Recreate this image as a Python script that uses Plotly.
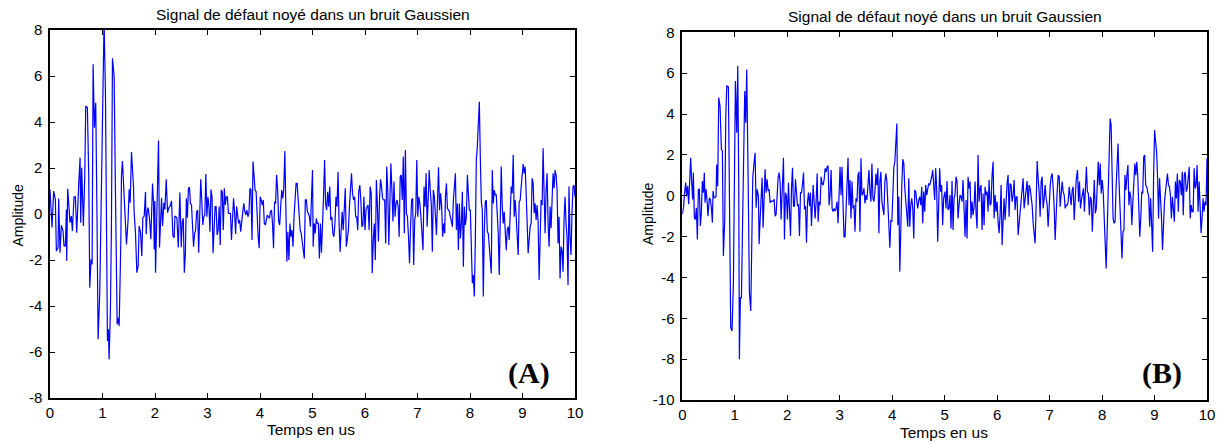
import numpy as np
import plotly.graph_objects as go

# ---------------- data ----------------
TITLE = "Signal de défaut noyé dans un bruit Gaussien"
XLABEL = "Temps en us"
YLABEL = "Amplitude"
X_TICKS = [0, 1, 2, 3, 4, 5, 6, 7, 8, 9, 10]
Y_TICKS_A = [-8, -6, -4, -2, 0, 2, 4, 6, 8]
Y_TICKS_B = [-10, -8, -6, -4, -2, 0, 2, 4, 6, 8]

# Signal (A): burst segment with read times, then regularly read segments
A_T1 = [0.000, 0.038, 0.070, 0.102, 0.121, 0.153, 0.165, 0.191, 0.216, 0.248,
        0.267, 0.293, 0.312, 0.318, 0.337, 0.363, 0.382, 0.407, 0.426, 0.458,
        0.483, 0.509, 0.522, 0.547, 0.573, 0.585, 0.604, 0.636, 0.662, 0.681,
        0.712, 0.738, 0.757, 0.782, 0.802, 0.821, 0.846, 0.871, 0.897, 0.916,
        0.948, 0.967, 1.011, 1.030, 1.056, 1.081, 1.094, 1.113, 1.126, 1.151,
        1.170, 1.190, 1.221, 1.247, 1.279, 1.304, 1.317, 1.349, 1.361, 1.380,
        1.425, 1.457, 1.488, 1.508, 1.527, 1.552, 1.590, 1.603, 1.628, 1.654,
        1.679, 1.698, 1.724, 1.749, 1.768, 1.794, 1.819, 1.832, 1.851, 1.870,
        1.896, 1.921, 1.953, 1.972, 1.985, 1.997, 2.010, 2.029, 2.067, 2.086,
        2.106, 2.125, 2.144, 2.169, 2.188, 2.214, 2.239, 2.265, 2.290, 2.315,
        2.341, 2.366, 2.379, 2.417, 2.443, 2.474]
A_V1 = [1.07, -0.59, 1.00, 0.64, -1.61, -1.46, 0.67, -1.68, -0.49, -0.74,
        -1.39, -1.39, 0.20, -2.04, 1.10, 0.35, -0.38, -0.09, -0.74, 0.75,
        0.75, -0.81, 0.28, 1.29, 2.45, -0.38, 2.01, -0.52, 1.65, 4.70,
        4.62, 1.65, -3.20, -1.97, -2.19, 6.51, 3.75, 4.84, -0.52, -5.45,
        -3.42, -0.52, 6.72, 8.40, 5.28, -1.97, -5.52, -5.01, -6.32, -4.14,
        -0.52, 6.77, 6.00, 0.93, -4.80, -4.51, -4.87, -1.25, 1.65, 2.30,
        -0.23, -1.32, -0.23, 1.07, 0.49, 2.70, 1.22, 0.06, -0.81, -2.55,
        -2.26, -0.52, -0.81, -1.83, -0.16, -0.09, 0.96, -0.88, 0.13, 0.28,
        -0.23, -1.10, 1.33, 0.49, -1.54, 0.57, -2.55, -0.81, 3.20, -1.46,
        -0.09, 0.71, -0.52, 0.49, 0.20, 1.51, 0.06, 0.28, 0.35, 0.57,
        -0.96, -1.03, -0.09, -0.16, -1.46, 0.93]
A_SPAN2 = (2.500, 5.000)
A_V2 = [-1.45, -0.33, -0.19, -2.55, -1.71, 0.68, -0.16, 1.12, 1.16, 0.46,
        0.39, -0.70, -1.42, -0.84, -0.70, 0.10, 0.17, -1.68, 0.39, 1.51,
        0.61, -0.48, -0.12, -0.04, 1.74, -0.12, 0.75, 0.32, -0.77, 1.07,
        0.75, -1.71, -0.70, 0.32, 0.32, -0.91, -0.70, 0.32, -1.35, 1.04,
        0.97, -0.70, 1.12, 0.39, 0.75, 0.75, 0.03, 0.03, 0.03, -1.13,
        -0.12, 0.68, 0.10, -0.87, 0.32, -0.12, -0.41, -0.26, -0.77, -0.33,
        0.25, 0.46, 0.10, -0.04, 0.17, -0.12, 0.03, 1.12, 1.04, -1.13,
        2.28, 1.48, 1.04, 0.97, -0.12, -0.99, -1.49, 0.75, 0.61, 0.39,
        0.61, -0.41, -0.48, -0.26, -0.04, -0.12, -0.19, 0.10, 0.17, -0.41,
        -1.49, 0.54, 0.46, 1.70, 1.04, -0.33, -0.48, 0.32, 1.04, 0.68,
        1.12, 2.74, 0.32, -2.07, -0.77, -2.00, -0.41, -0.99, -0.70, -1.42,
        -0.12, 0.61, 1.33, 1.33, 0.61, 0.03, -0.70, -0.84, -1.13, -1.57,
        -1.93, 0.61, 0.61, 0.10, 0.03, -0.12, -0.55, 1.04, 1.91]
A_SPAN3 = (5.013, 7.519)
A_V3 = [-1.42, -0.41, -0.84, -0.19, -0.41, -0.41, -1.93, -0.41, -1.68, 0.17,
        0.75, 2.35, 0.46, 0.17, 0.97, 0.32, 1.19, -0.26, -0.12, -0.84,
        -0.99, -0.41, 0.75, 0.32, 1.84, -0.41, -1.64, -0.70, 0.10, -0.70,
        0.39, 1.12, -1.42, -1.13, -0.70, 0.32, 1.19, 1.77, 0.90, 0.61,
        0.75, -0.12, -0.12, -0.70, 0.97, 1.26, 0.61, -0.55, -0.48, 0.75,
        -0.70, 0.17, 0.32, 0.39, -0.70, 1.19, 0.90, -2.58, -1.13, -0.41,
        -2.00, 1.48, 0.32, -1.20, 0.61, 1.51, 1.19, 0.68, 0.61, 0.61,
        -1.28, 2.06, 1.04, -1.35, 0.46, 2.20, 1.04, -0.33, 1.41, -0.12,
        0.46, 0.61, 0.32, -0.99, 1.62, 1.70, 0.61, 2.49, -0.84, 2.78,
        0.03, -0.12, -0.99, -2.14, -0.55, 0.61, 0.68, -2.22, -0.26, 0.03,
        2.35, -0.12, 0.75, 0.46, -0.12, -0.70, -1.57, 1.19, 0.32, 1.77,
        -0.55, 0.61, 1.91, 1.04, 0.46, -1.64, 1.04, 0.75, -0.12, -0.91,
        0.61, 2.03, 0.17, 0.90, 0.32, -0.99, -0.41, -0.84]
A_SPAN4 = (7.532, 10.000)
A_V4 = [0.75, 1.33, 0.25, 0.17, 0.10, -0.12, -0.41, -0.55, 0.61, 1.33,
        1.77, -0.70, 0.46, -1.57, 0.46, -1.06, -0.41, 0.97, -2.29, 0.32,
        -0.48, -0.12, 1.70, 0.90, 0.17, 0.17, -1.28, -3.01, -2.65, -3.59,
        -1.13, 2.35, 2.93, 3.94, 4.88, 2.49, 0.54, 0.17, -3.59, -0.70,
        0.54, 0.61, -0.77, -0.84, -1.57, -1.78, -2.58, 1.91, 0.46, 1.04,
        0.83, 0.83, -0.12, -0.84, -2.65, -0.41, 2.06, 0.32, -0.41, 0.10,
        -0.99, -1.57, -0.70, -0.55, -1.13, -0.26, 1.19, 0.90, 2.57, -0.12,
        0.61, -0.12, -0.99, -1.78, 0.54, 0.61, 1.19, 1.91, 2.17, 1.77,
        2.06, 0.90, -0.12, -1.71, -1.13, -0.55, -0.41, 1.55, 1.33, 0.03,
        0.46, -0.26, 0.39, -0.33, -2.87, -0.99, 0.61, 0.39, 2.86, 0.90,
        -0.84, 1.04, 1.77, -0.41, -1.42, 0.32, -0.62, 0.61, 1.77, 1.12,
        1.91, 1.70, 1.04, -1.28, -0.12, -2.80, -1.42, -1.57, -2.51, -0.26,
        0.75, -0.41, -0.99, -3.09, 1.19, -0.99, -1.78, 0.03, 1.19, 1.26,
        0.75]

# Signal (B)
B_T1 = [0.000, 0.026, 0.045, 0.064, 0.083, 0.102, 0.121, 0.141, 0.160, 0.179,
        0.198, 0.211, 0.230, 0.249, 0.268, 0.287, 0.306, 0.325, 0.344, 0.363,
        0.382, 0.401, 0.420, 0.433, 0.452, 0.471, 0.490, 0.516, 0.535, 0.554,
        0.573, 0.586, 0.605, 0.624, 0.643, 0.656, 0.675, 0.694, 0.719, 0.745,
        0.764, 0.783, 0.809, 0.828, 0.847, 0.878, 0.898, 0.923, 0.948, 0.974,
        0.993, 1.012, 1.038, 1.057, 1.076, 1.088, 1.107, 1.127, 1.146, 1.171,
        1.190, 1.209, 1.228, 1.254, 1.279, 1.305, 1.324, 1.343, 1.368, 1.387,
        1.407, 1.426, 1.451, 1.464, 1.483, 1.502, 1.521, 1.540, 1.559, 1.578,
        1.597, 1.616, 1.635, 1.654, 1.674, 1.693, 1.712, 1.731, 1.750, 1.769,
        1.788, 1.807, 1.826, 1.845, 1.864, 1.883, 1.903, 1.928, 1.947, 1.966,
        1.985, 2.004, 2.023, 2.043, 2.062, 2.081, 2.100, 2.119, 2.138, 2.157,
        2.176, 2.195, 2.214, 2.233, 2.253, 2.272, 2.291, 2.310, 2.329, 2.348,
        2.367, 2.386, 2.405, 2.424, 2.443, 2.462]
B_V1 = [-0.91, -0.51, 0.15, 0.64, -0.02, 0.47, -0.42, 0.88, 1.86, 0.64,
        -0.18, 1.13, -1.08, -1.16, -0.59, -2.14, 0.31, 0.31, -1.48, -0.83,
        0.72, 0.15, 1.13, -0.34, 0.31, -0.18, -1.00, -0.10, -0.18, -0.59,
        -1.32, 0.23, -0.10, -0.10, -0.02, 1.53, 0.47, 4.80, 4.39, 2.27,
        2.19, -2.95, -1.16, 3.82, 5.37, 5.33, 0.15, -6.46, -6.62, -4.26,
        0.64, 5.61, 3.08, 6.35, 0.47, -8.01, -4.99, -4.99, -1.81, 2.59,
        5.12, 3.57, 6.18, 0.96, -4.75, -5.64, -1.48, 0.88, 1.62, 2.10,
        -0.59, 0.31, -0.02, -2.38, -1.16, 0.15, 0.88, -1.57, 0.31, 1.29,
        0.15, 0.80, 0.23, 0.31, -0.34, -0.26, -0.26, -0.26, -0.18, -1.00,
        -0.91, 0.47, 0.88, 1.13, 0.64, -1.16, -0.02, 1.86, -2.14, 0.15,
        -0.02, -1.16, 0.64, -0.67, -1.97, 0.31, 1.37, -0.51, -0.51, 0.80,
        0.07, -0.51, -0.42, -1.97, 0.15, 0.15, 0.55, 1.13, -0.67, -0.51,
        -2.30, -0.34, 0.15, -0.51, 0.15, -1.48]
B_SPAN2 = (2.494, 4.981)
B_V2 = [0.52, -0.46, -1.11, -0.29, 1.09, -1.27, -0.29, -0.46, 0.93, 0.60,
        0.52, 0.77, 1.34, 1.17, 1.42, 1.47, -0.46, 0.03, 1.26, -0.62,
        -0.78, -0.62, -0.75, -0.62, -0.29, -1.35, -0.21, 1.42, 0.03, 1.42,
        -0.46, -2.01, -2.01, -0.46, 0.69, 1.86, -0.46, 0.77, -1.11, 0.69,
        -0.62, -0.46, -1.76, -0.13, -0.29, 1.01, 1.17, -1.76, 1.83, 0.03,
        0.11, 0.36, -0.38, 0.03, -0.21, 0.36, 1.26, 0.20, -0.29, 1.58,
        -0.13, -0.29, 0.20, 1.09, 0.52, 1.34, -1.84, 0.69, 1.17, -0.29,
        -0.62, -0.95, 0.69, 1.09, 0.69, -0.46, -0.86, -2.54, -1.19, -1.27,
        0.03, 1.42, 1.66, 2.97, 3.54, -1.44, -0.05, -3.72, -0.95, 0.52,
        1.79, 1.58, 0.36, -0.46, -0.95, -1.52, 0.85, -1.52, -0.46, -0.13,
        -0.62, -2.09, 0.28, 0.20, -0.29, -0.62, -0.21, -0.05, -0.46, 0.44,
        -1.35, 0.20, -0.78, 0.52, 0.03, 0.36, 0.60, 0.52, 0.69, 0.93,
        1.26, 0.36, -0.21, 1.34, 0.36, -2.25, 0.36, 1.34, 0.20, 0.52,
        -1.44, -0.13]
B_SPAN3 = (5.007, 7.507)
B_V3 = [0.20, -0.62, 0.72, -0.70, -0.62, 0.03, -1.60, 0.72, -1.68, -0.13,
        0.07, 0.93, 0.69, -1.11, -0.46, 0.03, -0.05, -0.29, 0.77, -0.29,
        -2.01, -0.21, -2.09, 0.93, 0.36, 0.69, -1.11, -0.29, -0.95, -0.54,
        0.69, -0.86, -1.60, 1.99, -0.29, 0.36, 0.52, -1.68, 0.11, -1.44,
        0.44, 0.03, 0.20, -0.78, 0.77, -0.46, -0.38, 1.01, 1.66, -1.11,
        0.03, -0.78, -0.29, -1.27, -1.84, -0.95, 0.52, -2.41, -1.11, -0.13,
        -1.19, -0.05, 0.60, 1.01, -1.03, 0.60, 0.52, -0.29, 0.03, 0.77,
        -0.70, -0.05, -0.05, -1.92, -1.27, -0.78, -0.29, 0.52, 0.85, -0.62,
        -0.13, 0.52, 0.72, -0.46, 0.52, 0.36, -0.13, -0.46, -1.35, -1.76,
        -2.33, -0.46, 1.70, 0.85, 0.20, -1.03, 0.69, 0.93, -0.62, -0.13,
        0.52, -0.13, -0.46, -1.52, -0.29, 0.44, 0.93, 1.09, 0.39, -0.54,
        -2.17, -0.46, 0.20, 1.01, 0.93, -0.54, 0.11, 0.69, 0.20, 0.03,
        -0.62, -0.46, -0.46, -0.29, 0.44, 0.03, -0.46, 0.28, 0.44, -1.19,
        0.20, 0.77]
B_SPAN4 = (7.532, 10.000)
B_V4 = [1.26, -0.29, 0.69, -0.62, -0.21, 0.03, 0.36, -0.78, 0.44, 1.42,
        0.20, 0.11, -0.95, -0.05, -0.21, -1.76, -0.46, 0.77, -0.86, -0.62,
        0.52, 1.66, 0.52, 1.58, 0.11, 0.77, 0.20, -1.11, -2.41, -3.56,
        -1.76, 0.36, 2.89, 3.78, 3.46, 1.17, -1.11, -1.35, -1.27, 0.36,
        1.58, 2.56, 0.69, -0.46, -1.76, -3.07, -1.76, -1.68, 1.01, 0.28,
        1.01, 1.50, -0.46, 0.20, -0.13, -1.44, -0.29, 0.60, 1.58, 1.01,
        1.66, 0.93, -0.78, -2.01, -1.11, 0.20, 0.11, 1.91, 1.99, 0.52,
        0.44, 0.20, -0.05, -1.52, -0.13, -1.44, -2.74, 1.01, 3.21, 2.64,
        2.15, 0.93, -1.11, 0.85, -0.05, -1.11, -2.66, -1.03, -0.29, 0.20,
        0.69, 1.09, 0.52, 0.44, 0.03, -1.11, -0.05, -0.95, -1.27, 0.69,
        -0.13, 1.09, -0.78, 0.77, 0.69, 0.03, 1.17, -0.95, 1.01, 1.17,
        0.20, 0.36, 1.17, 1.42, -1.11, -0.46, -0.78, -0.78, 1.34, 0.36,
        0.52, 1.50, -0.78, 0.69, -0.46, -1.84, -1.11, -0.13, -0.78, -0.29,
        -0.46, 1.83]

# ---------------- figure ----------------
W, H = 1222, 444
FONT = "Arial, Liberation Sans, sans-serif"
SERIF = "Times New Roman, Liberation Serif, serif"


def px(x):
    return x / W


def py(y):
    return 1 - y / H


def build(t1, v1, segs):
    t = list(t1)
    v = list(v1)
    for span, vals in segs:
        t += list(np.linspace(span[0], span[1], len(vals)))
        v += list(vals)
    return t, v


ta, va = build(A_T1, A_V1, [(A_SPAN2, A_V2), (A_SPAN3, A_V3), (A_SPAN4, A_V4)])
tb, vb = build(B_T1, B_V1, [(B_SPAN2, B_V2), (B_SPAN3, B_V3), (B_SPAN4, B_V4)])

fig = go.Figure()
fig.add_trace(go.Scatter(x=ta, y=va, mode="lines", xaxis="x", yaxis="y",
                         line=dict(color="#0000FF", width=1.2),
                         showlegend=False, hoverinfo="skip"))
fig.add_trace(go.Scatter(x=tb, y=vb, mode="lines", xaxis="x2", yaxis="y2",
                         line=dict(color="#0000FF", width=1.2),
                         showlegend=False, hoverinfo="skip"))

axis_style = dict(showline=True, linecolor="black", linewidth=1.5,
                  mirror="ticks", ticks="inside", ticklen=5, tickwidth=1,
                  tickcolor="black", showgrid=False, zeroline=False,
                  automargin=False,
                  tickfont=dict(family=FONT, size=15, color="black"),
                  fixedrange=True)

fig.update_layout(
    width=W, height=H, autosize=False,
    margin=dict(l=0, r=0, t=0, b=0, pad=0),
    paper_bgcolor="white", plot_bgcolor="white",
    xaxis=dict(axis_style, domain=[px(50), px(575)], range=[0, 10],
               tickvals=X_TICKS, ticktext=[str(v) for v in X_TICKS],
               anchor="y", ticklabelstandoff=0),
    yaxis=dict(axis_style, domain=[py(398), py(30)], range=[-8, 8],
               tickvals=Y_TICKS_A, ticktext=[str(v) for v in Y_TICKS_A],
               anchor="x", ticklabelstandoff=3),
    xaxis2=dict(axis_style, domain=[px(682.3), px(1207)], range=[0, 10],
                tickvals=X_TICKS, ticktext=[str(v) for v in X_TICKS],
                anchor="y2", ticklabelstandoff=0),
    yaxis2=dict(axis_style, domain=[py(400), py(32.3)], range=[-10, 8],
                tickvals=Y_TICKS_B, ticktext=[str(v) for v in Y_TICKS_B],
                anchor="x2", ticklabelstandoff=3),
)

ann = []
for cx, cy in [(312.5, 14.5), (944.6, 17)]:
    ann.append(dict(text=TITLE, x=px(cx), y=py(cy), xref="paper", yref="paper",
                    xanchor="center", yanchor="middle", showarrow=False,
                    font=dict(family=FONT, size=15.5, color="black")))
for cx, cy in [(311, 429), (944, 432)]:
    ann.append(dict(text=XLABEL, x=px(cx), y=py(cy), xref="paper", yref="paper",
                    xanchor="center", yanchor="middle", showarrow=False,
                    font=dict(family=FONT, size=15.5, color="black")))
for cx, cy in [(17.5, 216), (648, 214)]:
    ann.append(dict(text=YLABEL, x=px(cx), y=py(cy), xref="paper", yref="paper",
                    xanchor="center", yanchor="middle", showarrow=False,
                    textangle=-90,
                    font=dict(family=FONT, size=14, color="black")))
for lab, cx, cy in [("(A)", 528.5, 372.5), ("(B)", 1161.5, 372.5)]:
    ann.append(dict(text="<b>" + lab + "</b>", x=px(cx), y=py(cy),
                    xref="paper", yref="paper", xanchor="center",
                    yanchor="middle", showarrow=False,
                    font=dict(family=SERIF, size=30, color="black")))
fig.update_layout(annotations=ann)

fig.write_html(
    "out.html",
    post_script="document.body.style.margin='0';"
                "document.body.style.overflow='hidden';",
)
